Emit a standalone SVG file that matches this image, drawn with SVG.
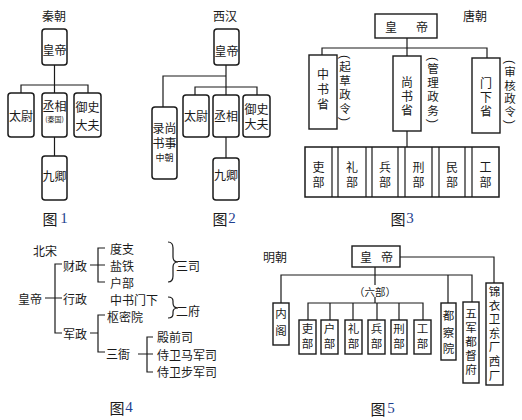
<svg xmlns="http://www.w3.org/2000/svg" width="522" height="420" viewBox="0 0 522 420">
<style>
text{font-family:"Noto Sans CJK SC","Noto Sans",sans-serif;fill:#1a1a1a;text-anchor:middle;dominant-baseline:central;font-size:12px}
.s{font-size:7px}
.m{font-size:9px}
.v{font-size:11.5px}
.d{font-size:9px}
.p{font-family:"Liberation Sans",sans-serif;font-size:12px}
.cap{font-size:15px}
.num{font-family:"Liberation Serif",serif;font-size:15px;fill:#1f3f8f}
.rb{fill:#fff;stroke:#1a1a1a;stroke-width:1.5}
.sb{fill:#fff;stroke:#1a1a1a;stroke-width:1.4}
.ln{fill:none;stroke:#1a1a1a;stroke-width:1.2}
</style>
<rect width="522" height="420" fill="#fff"/>

<!-- connectors -->
<g id="connectors" class="ln">
  <!-- fig1 -->
  <path d="M54.5 65V85M21 93V85H88V93M54.5 85V93M54.5 137V156"/>
  <!-- fig2 -->
  <path d="M226 65V87M226 76H163V107M195 95V87H257V95M226 87V95M226 137V158"/>
  <!-- fig3 -->
  <path d="M407 38V48M322 55V48H487V58M407 48V56M407 131V147"/>
  <path d="M332 147V197M338 147V197M366 147V197M372 147V197M398 147V197M405 147V197M432 147V197M439 147V197M465 147V197M472 147V197"/>
  <!-- fig4 -->
  <path d="M45 298H62M62 264H55V333H62"/>
  <path d="M90 265H105M105 248H98V282H105"/>
  <path d="M90 333H98M105 315H98V352H105"/>
  <path d="M138 354H153M153 337H147V372H153"/>
  <path d="M168 242Q173 242 173 248V257Q173 262 178 262Q173 262 173 267V276Q173 282 168 282"/>
  <path d="M168 297Q173 297 173 301V303Q173 308 178 308Q173 308 173 312V314Q173 318 168 318"/>
  <!-- fig5 -->
  <path d="M400 257H494V283M375 267V285M281 303V275H472V302M448 275V303"/>
  <path d="M375 297V303M308 320V303H423V320M330 303V320M353 303V320M377 303V320M399 303V320"/>
</g>

<!-- Figure 1 -->
<g id="fig1">
  <text x="54" y="15">秦朝</text>
  <g id="f1-emperor"><rect class="rb" x="42" y="29" width="25" height="36" rx="3"/><text x="54.5" y="49">皇帝</text></g>
  <g id="f1-taiwei"><rect class="rb" x="8" y="93" width="26" height="44" rx="3"/><text x="21" y="115">太尉</text></g>
  <g id="f1-chengxiang"><rect class="rb" x="42" y="93" width="25" height="44" rx="3"/><text x="54.5" y="105">丞相</text><text class="s" x="54.5" y="119">(秦国)</text></g>
  <g id="f1-yushi"><rect class="rb" x="74" y="93" width="27" height="44" rx="3"/><text x="87.5" y="106">御史</text><text x="87.5" y="124">大夫</text></g>
  <g id="f1-jiuqing"><rect class="rb" x="42" y="156" width="25" height="44" rx="3"/><text x="54.5" y="175">九卿</text></g>
  <text class="cap" x="50" y="218">图</text><text class="num" x="64" y="218">1</text>
</g>

<!-- Figure 2 -->
<g id="fig2">
  <text x="225" y="15">西汉</text>
  <g id="f2-emperor"><rect class="rb" x="214" y="29" width="25" height="36" rx="3"/><text x="226.5" y="50">皇帝</text></g>
  <g id="f2-lu"><rect class="rb" x="152" y="107" width="25" height="72" rx="3"/><text x="164.5" y="127">录尚</text><text x="164.5" y="142">书事</text><text class="m" x="164.5" y="157">中朝</text></g>
  <g id="f2-taiwei"><rect class="rb" x="183" y="95" width="26" height="42" rx="3"/><text x="196" y="115">太尉</text></g>
  <g id="f2-chengxiang"><rect class="rb" x="213" y="95" width="26" height="42" rx="3"/><text x="226" y="115">丞相</text></g>
  <g id="f2-yushi"><rect class="rb" x="243" y="95" width="27" height="42" rx="3"/><text x="256.5" y="108">御史</text><text x="256.5" y="123">大夫</text></g>
  <g id="f2-jiuqing"><rect class="rb" x="213" y="158" width="26" height="42" rx="3"/><text x="226" y="174">九卿</text></g>
  <text class="cap" x="220" y="218">图</text><text class="num" x="232" y="218">2</text>
</g>

<!-- Figure 3 -->
<g id="fig3">
  <text x="475" y="15">唐朝</text>
  <g id="f3-emperor"><rect class="sb" x="375" y="14" width="62" height="24"/><text x="391" y="26">皇</text><text x="422" y="26">帝</text></g>
  <g id="f3-zhongshu"><rect class="sb" x="309" y="55" width="28" height="74"/>
    <text x="323" y="73">中</text><text x="323" y="88">书</text><text x="323" y="103">省</text>
    <text class="p" transform="translate(345 57) rotate(90)">(</text>
    <text class="v" x="345" y="66">起</text><text class="v" x="345" y="80">草</text><text class="v" x="345" y="94">政</text><text class="v" x="345" y="108">令</text>
    <text class="p" transform="translate(345 119) rotate(90)">)</text>
  </g>
  <g id="f3-shangshu"><rect class="sb" x="393" y="56" width="28" height="75"/>
    <text x="407" y="81">尚</text><text x="407" y="95">书</text><text x="407" y="109">省</text>
    <text class="p" transform="translate(433 59) rotate(90)">(</text>
    <text class="v" x="433" y="68">管</text><text class="v" x="433" y="82">理</text><text class="v" x="433" y="96">政</text><text class="v" x="433" y="110">务</text>
    <text class="p" transform="translate(433 121) rotate(90)">)</text>
  </g>
  <g id="f3-menxia"><rect class="sb" x="472" y="58" width="28" height="75"/>
    <text x="486" y="82">门</text><text x="486" y="96">下</text><text x="486" y="110">省</text>
    <text class="p" transform="translate(510 62) rotate(90)">(</text>
    <text class="v" x="510" y="71">审</text><text class="v" x="510" y="85">核</text><text class="v" x="510" y="98">政</text><text class="v" x="510" y="111">令</text>
    <text class="p" transform="translate(510 122) rotate(90)">)</text>
  </g>
  <g id="f3-depts">
    <rect x="305" y="147" width="194" height="50" fill="none" stroke="#1a1a1a" stroke-width="1.5"/>
    <text x="318.5" y="166">吏</text><text x="318.5" y="181">部</text>
    <text x="352" y="166">礼</text><text x="352" y="181">部</text>
    <text x="385" y="166">兵</text><text x="385" y="181">部</text>
    <text x="418.5" y="166">刑</text><text x="418.5" y="181">部</text>
    <text x="452" y="166">民</text><text x="452" y="181">部</text>
    <text x="485.5" y="166">工</text><text x="485.5" y="181">部</text>
  </g>
  <text class="cap" x="398" y="218">图</text><text class="num" x="410" y="218">3</text>
</g>

<!-- Figure 4 -->
<g id="fig4">
  <text x="45" y="250">北宋</text>
  <text x="30" y="298">皇帝</text>
  <text x="75" y="265">财政</text>
  <text x="75" y="298">行政</text>
  <text x="75" y="333">军政</text>
  <text x="122" y="248">度支</text>
  <text x="122" y="265">盐铁</text>
  <text x="122" y="282">户部</text>
  <text x="188" y="265">三司</text>
  <text x="134" y="299">中书门下</text>
  <text x="125" y="316">枢密院</text>
  <text x="188" y="310">二府</text>
  <text x="118" y="353">三衙</text>
  <text x="157" y="336" style="text-anchor:start">殿前司</text>
  <text x="157" y="354" style="text-anchor:start">侍卫马军司</text>
  <text x="157" y="371" style="text-anchor:start">侍卫步军司</text>
  <text class="cap" x="117" y="407">图</text><text class="num" x="129" y="407">4</text>
</g>

<!-- Figure 5 -->
<g id="fig5">
  <text x="275" y="256">明朝</text>
  <g id="f5-emperor"><rect class="sb" x="352" y="246" width="48" height="21"/><text x="366" y="256.5">皇</text><text x="387" y="256.5">帝</text></g>
  <text x="375" y="291" style="font-size:10.5px">（六部）</text>
  <g id="f5-neige"><rect class="sb" x="273" y="303" width="16" height="42"/><text class="v" x="281" y="313">内</text><text class="v" x="281" y="330">阁</text></g>
  <g id="f5-li"><rect class="sb" x="299" y="320" width="17" height="34"/><text class="v" x="307.5" y="328">吏</text><text class="v" x="307.5" y="343">部</text></g>
  <g id="f5-hu"><rect class="sb" x="321" y="320" width="17" height="34"/><text class="v" x="329.5" y="328">户</text><text class="v" x="329.5" y="343">部</text></g>
  <g id="f5-li2"><rect class="sb" x="345" y="320" width="17" height="34"/><text class="v" x="353.5" y="328">礼</text><text class="v" x="353.5" y="343">部</text></g>
  <g id="f5-bing"><rect class="sb" x="368" y="320" width="17" height="34"/><text class="v" x="376.5" y="328">兵</text><text class="v" x="376.5" y="343">部</text></g>
  <g id="f5-xing"><rect class="sb" x="391" y="320" width="16" height="34"/><text class="v" x="399" y="328">刑</text><text class="v" x="399" y="343">部</text></g>
  <g id="f5-gong"><rect class="sb" x="414" y="320" width="17" height="34"/><text class="v" x="422.5" y="328">工</text><text class="v" x="422.5" y="343">部</text></g>
  <g id="f5-duchayuan"><rect class="sb" x="441" y="303" width="15" height="57"/><text class="v" x="448.5" y="315">都</text><text class="v" x="448.5" y="332">察</text><text class="v" x="448.5" y="348">院</text></g>
  <g id="f5-wujun"><rect class="sb" x="463" y="302" width="16" height="81"/><text class="v" x="471" y="313">五</text><text class="v" x="471" y="327">军</text><text class="v" x="471" y="341">都</text><text class="v" x="471" y="355">督</text><text class="v" x="471" y="369">府</text></g>
  <g id="f5-jinyiwei"><rect class="sb" x="486" y="283" width="17" height="102"/>
    <text class="v" x="494.5" y="291">锦</text><text class="v" x="494.5" y="305">衣</text><text class="v" x="494.5" y="318">卫</text><text class="d" x="500" y="325">、</text>
    <text class="v" x="494.5" y="333">东</text><text class="v" x="494.5" y="346">厂</text><text class="d" x="500" y="353">、</text>
    <text class="v" x="494.5" y="361">西</text><text class="v" x="494.5" y="375">厂</text>
  </g>
  <text class="cap" x="378" y="408">图</text><text class="num" x="391" y="408">5</text>
</g>
</svg>
